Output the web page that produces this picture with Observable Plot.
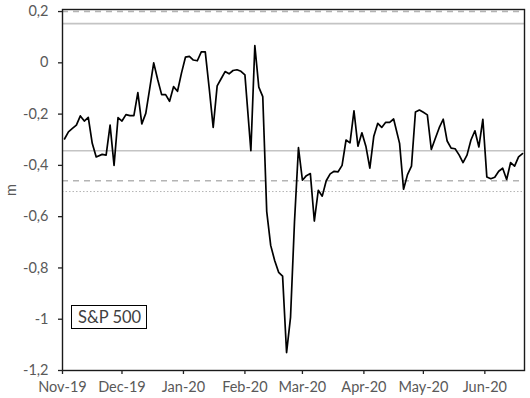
<!DOCTYPE html>
<html>
<head>
<meta charset="utf-8">
<script src="https://cdn.jsdelivr.net/npm/d3@7"></script>
<script src="https://cdn.jsdelivr.net/npm/@observablehq/plot@0.6"></script>
<style>
  html, body { margin: 0; padding: 0; background: #fff; }
  #wrap { position: relative; width: 530px; height: 398px; font-family: Lato, "Open Sans", sans-serif; }
  #legend {
    position: absolute; left: 71px; top: 305px; height: 22px;
    border: 1.5px solid #000; font-size: 16.5px; color: #404040;
    line-height: 22px; padding: 0 5px 0 6px; box-sizing: content-box; white-space: nowrap;
  }
</style>
</head>
<body>
<div id="wrap"><div id="legend">S&amp;P 500</div></div>
<script>
// Day offsets from 2019-11-01 for each observation
const dayOffsets = [1,3,5,7,9,11,13,15,17,
  20,22,24,26,28,30,32,34,36,38,40,42,44,46,48,50,52,54,56,58,60,62,64,66,68,70,72,74,76,78,80,82,84,86,88,90,92,
  95,97,99,101,103,105,107,109,111,113,115,117,119,121,123,125,127,129,131,133,135,137,139,141,143,145,147,149,151,153,155,157,159,161,163,165,167,
  170,172,174,176,178,180,182,184,186,188,190,192,194,196,198,200,202,204,206,208,210,212,214,216,218,220,222,224,226,228,230,232];

// m values (S&P 500)
const mValues = [
  -0.297,-0.269,-0.256,-0.243,-0.207,-0.227,-0.213,-0.314,-0.367,-0.357,
  -0.36,-0.243,-0.40,-0.214,-0.227,-0.202,-0.206,-0.206,-0.116,-0.238,
  -0.197,-0.10,0.0,-0.065,-0.124,-0.124,-0.15,-0.093,-0.111,-0.04,
  0.022,0.025,0.011,0.008,0.043,0.043,-0.10,-0.252,-0.09,-0.062,
  -0.034,-0.043,-0.03,-0.027,-0.033,-0.047,-0.343,0.067,-0.095,-0.132,
  -0.58,-0.712,-0.771,-0.817,-0.832,-1.13,-0.993,-0.62,-0.331,-0.458,
  -0.44,-0.432,-0.617,-0.497,-0.52,-0.46,-0.433,-0.423,-0.425,-0.40,
  -0.301,-0.312,-0.187,-0.325,-0.273,-0.325,-0.411,-0.286,-0.236,-0.252,
  -0.232,-0.232,-0.219,-0.314,-0.493,-0.436,-0.403,-0.192,-0.184,-0.193,
  -0.203,-0.338,-0.295,-0.253,-0.22,-0.305,-0.333,-0.335,-0.359,-0.389,
  -0.36,-0.301,-0.265,-0.328,-0.22,-0.445,-0.452,-0.446,-0.423,-0.411,
  -0.455,-0.389,-0.403,-0.367,-0.354
];

// Reference levels
const dashedLevels = [0.2, -0.46];
const solidLevels = [0.153, -0.343];
const dottedLevels = [-0.502];

// Axis ticks
const yTicks = [0.2, 0, -0.2, -0.4, -0.6, -0.8, -1, -1.2];
const monthTickLabels = ["Nov-19","Dec-19","Jan-20","Feb-20","Mar-20","Apr-20","May-20","Jun-20"];
const monthTicks = monthTickLabels.map((_, i) => new Date(Date.UTC(2019, 10 + i, 1)));

const data = mValues.map((v, i) => ({
  date: new Date(Date.UTC(2019, 10, 1 + dayOffsets[i])),
  value: v
}));

const fmtY = d => (Math.round(d * 10) / 10).toString().replace(".", ",");
const fmtX = d => monthTickLabels[monthTicks.findIndex(t => +t === +d)];

const chart = Plot.plot({
  width: 530,
  height: 398,
  marginLeft: 62,
  marginRight: 6,
  marginTop: 9,
  marginBottom: 28,
  style: { fontFamily: "Lato, 'Open Sans', sans-serif", fontSize: "14.5px", color: "#595959", background: "#fff" },
  x: { type: "utc", domain: [new Date(Date.UTC(2019, 10, 1)), new Date(Date.UTC(2020, 5, 21))] },
  y: { domain: [-1.2, 0.208] },
  marks: [
    Plot.ruleY(solidLevels, { stroke: "#c4c4c4", strokeWidth: 1.6 }),
    Plot.ruleY(dashedLevels, { stroke: "#b4b4b4", strokeWidth: 1.6, strokeDasharray: "6,5" }),
    Plot.ruleY(dottedLevels, { stroke: "#b4b4b4", strokeWidth: 1, strokeDasharray: "1.5,2" }),
    Plot.line(data, { x: "date", y: "value", stroke: "#000", strokeWidth: 1.7 }),
    Plot.frame({ stroke: "#1a1a1a", strokeWidth: 1.4 }),
    Plot.axisY({ ticks: yTicks, tickSize: 4, text: null, stroke: "#222", strokeWidth: 1.3, label: null }),
    Plot.axisY({ ticks: yTicks, tickSize: 0, tickPadding: 14, tickFormat: fmtY, fill: "#595959",
                 label: "m", labelAnchor: "center", labelArrow: "none", labelOffset: 57 }),
    Plot.axisX({ ticks: monthTicks, tickSize: 4, text: null, stroke: "#222", strokeWidth: 1.3, label: null }),
    Plot.axisX({ ticks: monthTicks, tickSize: 0, tickPadding: 11, tickFormat: fmtX, fill: "#595959", label: null })
  ]
});

document.getElementById("wrap").prepend(chart);
</script>
</body>
</html>
